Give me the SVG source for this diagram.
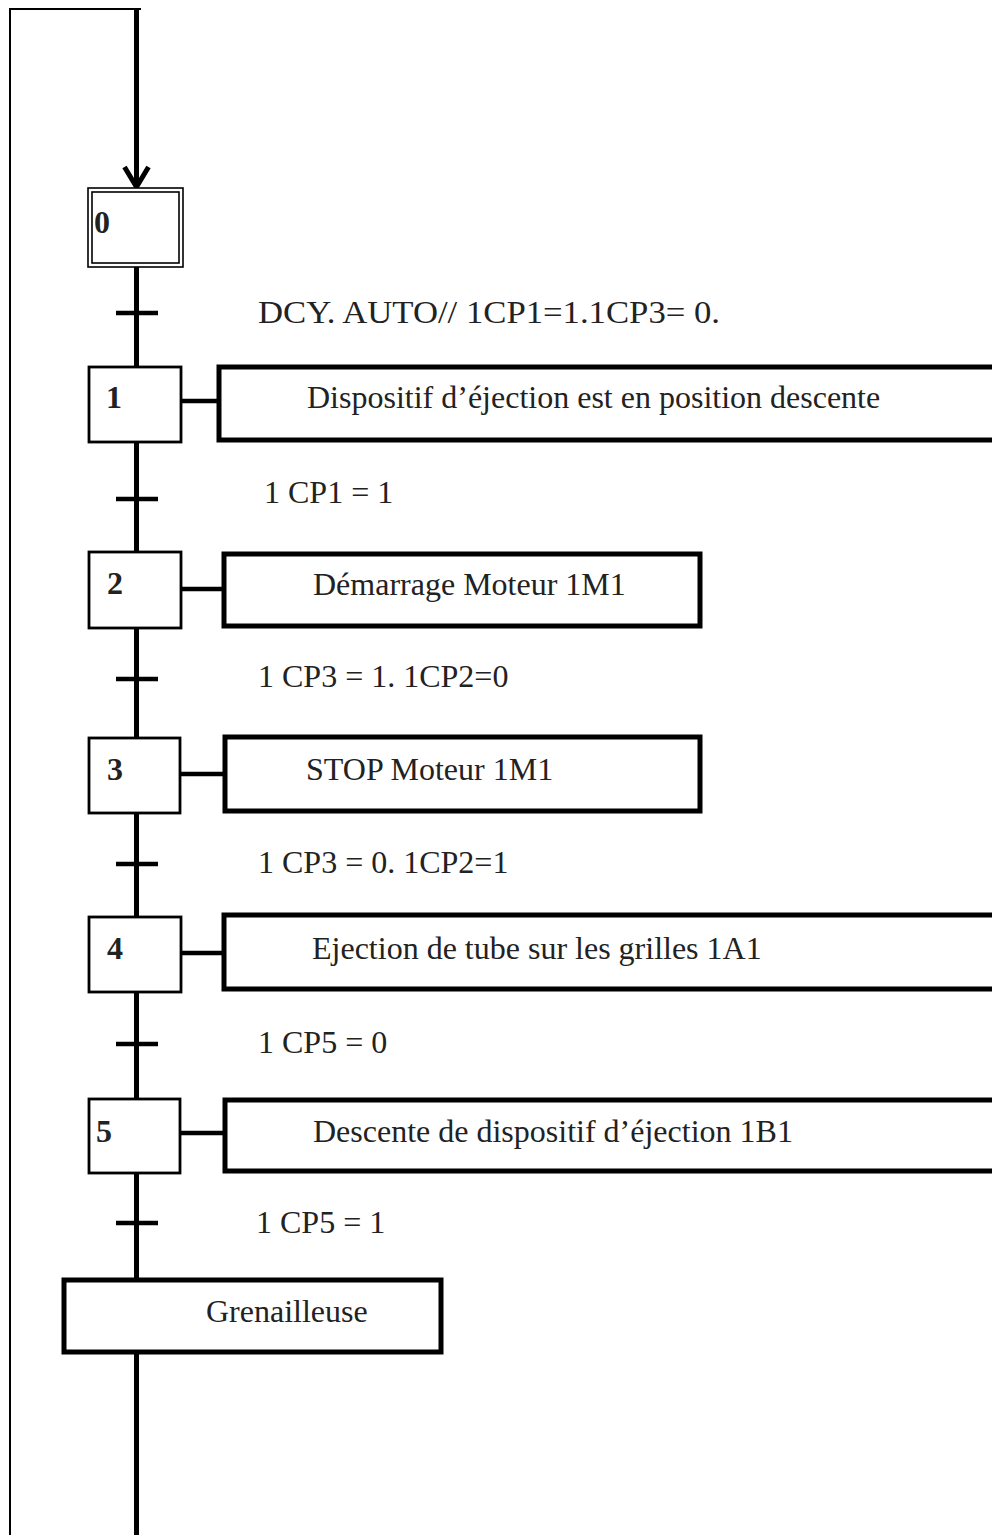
<svg xmlns="http://www.w3.org/2000/svg" width="992" height="1535" viewBox="0 0 992 1535">
<style>
.wire{stroke:#000;fill:none;stroke-linecap:butt}
.main{stroke-width:5}
.thin{stroke-width:2}
.bar{stroke-width:4.5}
.step{fill:#fff;stroke:#000;stroke-width:2.8}
.dbl{fill:#fff;stroke:#000;stroke-width:1.6}
.act{fill:#fff;stroke:#000;stroke-width:5}
.num{font-family:"Liberation Serif","Times New Roman",serif;font-weight:bold;font-size:32px;fill:#222}
.lbl{font-family:"Liberation Serif","Times New Roman",serif;font-size:32px;fill:#222}
</style>
<rect width="992" height="1535" fill="#fff"/>
<g id="connectors">
  <path class="wire thin" d="M10,1535 V9 H141"/>
  <path class="wire main" d="M136.5,9 V187"/>
  <path class="wire main" d="M136.5,267 V1535"/>
  <path class="wire" stroke-width="5" stroke-linejoin="miter" d="M124.5,167 L136.5,187 L148.5,167"/>
  <path class="wire bar" d="M116,313 H158"/>
  <path class="wire bar" d="M116,499 H158"/>
  <path class="wire bar" d="M116,679 H158"/>
  <path class="wire bar" d="M116,864 H158"/>
  <path class="wire bar" d="M116,1044 H158"/>
  <path class="wire bar" d="M116,1223 H158"/>
  <path class="wire bar" d="M181,401 H219"/>
  <path class="wire bar" d="M181,589 H224"/>
  <path class="wire bar" d="M180,774 H225"/>
  <path class="wire bar" d="M181,953 H224"/>
  <path class="wire bar" d="M180,1133 H225"/>
</g>
<g id="step0">
  <rect class="dbl" x="88" y="188" width="95" height="79"/>
  <rect class="dbl" x="92" y="192" width="87" height="71"/>
  <text class="num" x="94" y="233">0</text>
</g>
<g id="t0"><text class="lbl" x="258" y="323" textLength="462" lengthAdjust="spacingAndGlyphs">DCY. AUTO// 1CP1=1.1CP3= 0.</text></g>
<g id="step1">
  <rect class="step" x="89" y="367" width="92" height="75"/>
  <text class="num" x="106" y="408">1</text>
</g>
<g id="action1">
  <rect class="act" x="219" y="367" width="790" height="73"/>
  <text class="lbl" x="307" y="408">Dispositif d’éjection est en position descente</text>
</g>
<g id="t1"><text class="lbl" x="264" y="503">1 CP1 = 1</text></g>
<g id="step2">
  <rect class="step" x="89" y="552" width="92" height="76"/>
  <text class="num" x="107" y="594">2</text>
</g>
<g id="action2">
  <rect class="act" x="224" y="554" width="476" height="72"/>
  <text class="lbl" x="313" y="595">Démarrage Moteur 1M1</text>
</g>
<g id="t2"><text class="lbl" x="258" y="687">1 CP3 = 1. 1CP2=0</text></g>
<g id="step3">
  <rect class="step" x="89" y="738" width="91" height="75"/>
  <text class="num" x="107" y="780">3</text>
</g>
<g id="action3">
  <rect class="act" x="225" y="737" width="475" height="74"/>
  <text class="lbl" x="306" y="780">STOP Moteur 1M1</text>
</g>
<g id="t3"><text class="lbl" x="258" y="873">1 CP3 = 0. 1CP2=1</text></g>
<g id="step4">
  <rect class="step" x="89" y="917" width="92" height="75"/>
  <text class="num" x="107" y="959">4</text>
</g>
<g id="action4">
  <rect class="act" x="224" y="915" width="790" height="74"/>
  <text class="lbl" x="312" y="959">Ejection de tube sur les grilles 1A1</text>
</g>
<g id="t4"><text class="lbl" x="258" y="1053">1 CP5 = 0</text></g>
<g id="step5">
  <rect class="step" x="89" y="1099" width="91" height="74"/>
  <text class="num" x="96" y="1142">5</text>
</g>
<g id="action5">
  <rect class="act" x="225" y="1100" width="790" height="71"/>
  <text class="lbl" x="313" y="1142">Descente de dispositif d’éjection 1B1</text>
</g>
<g id="t5"><text class="lbl" x="256" y="1233">1 CP5 = 1</text></g>
<g id="grenailleuse">
  <rect class="act" x="64" y="1280" width="377" height="72"/>
  <text class="lbl" x="206" y="1322">Grenailleuse</text>
</g>
</svg>
